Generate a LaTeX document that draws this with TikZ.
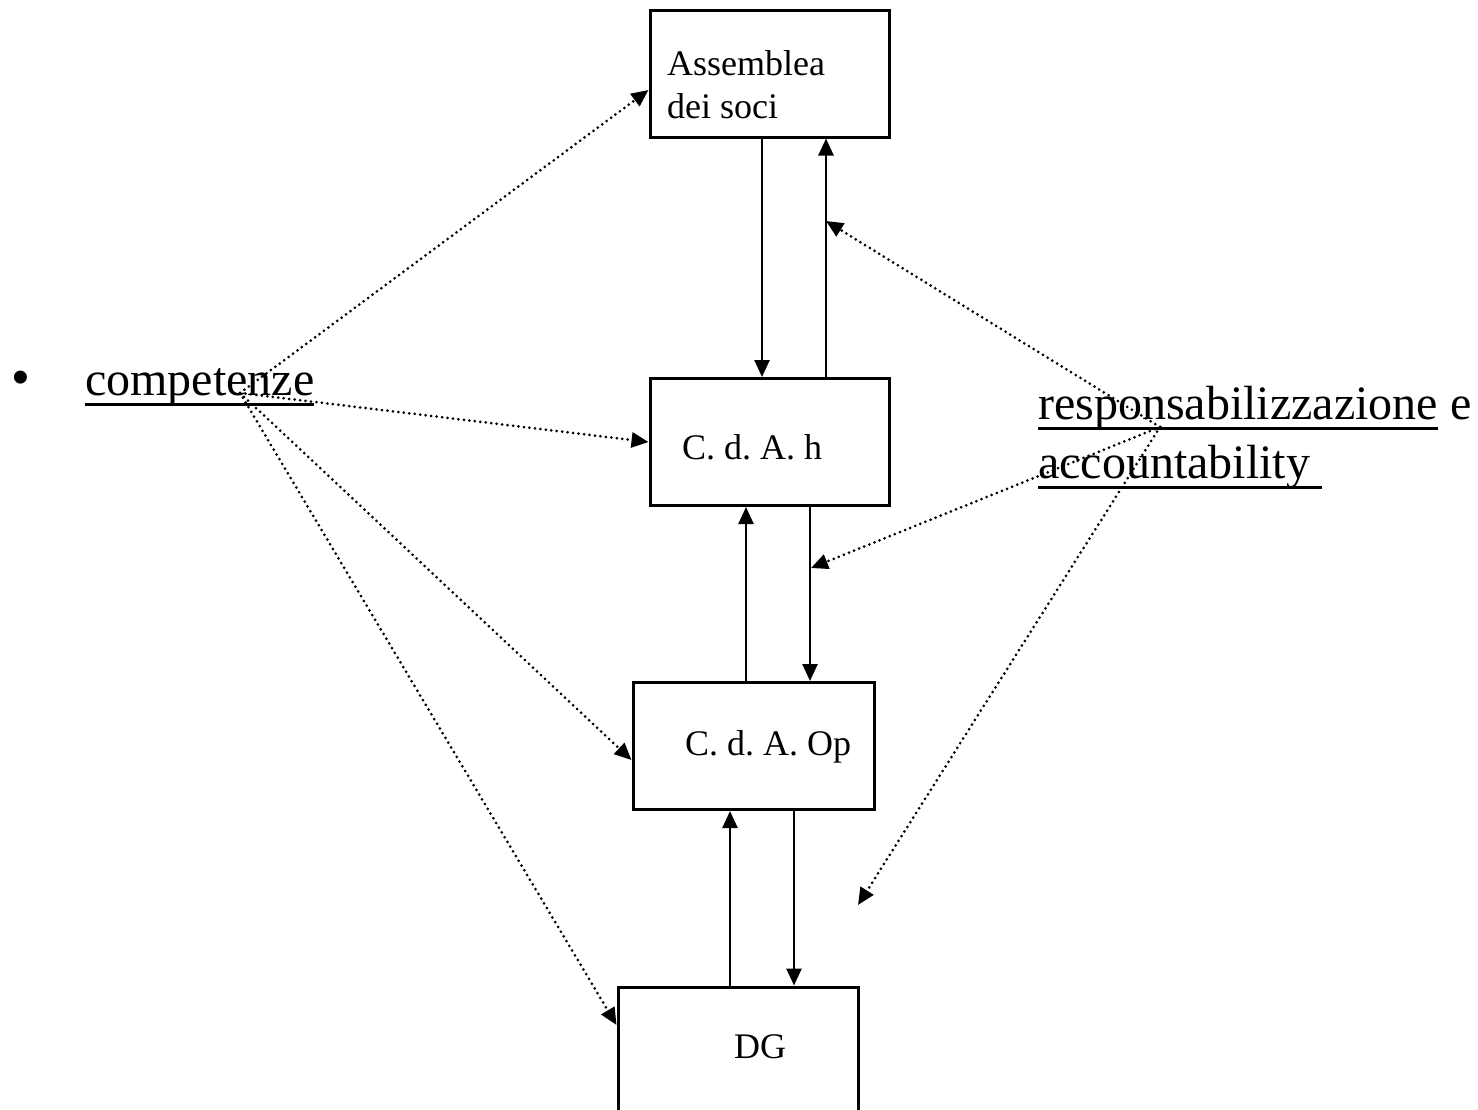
\documentclass[tikz,border=0pt]{standalone}
\usepackage{fontspec}
\setmainfont{Liberation Serif}
\newfontfamily\bulfont{Liberation Sans}
\usetikzlibrary{arrows.meta}
\frenchspacing
\newcommand\myul[1]{\setbox0\hbox{#1}\rlap{\rule[-11pt]{\wd0}{3pt}}\box0\relax}
\begin{document}
\begin{tikzpicture}[x=1pt,y=-1pt,
  box/.style={draw,line width=3pt,inner sep=0pt,minimum width=239pt,minimum height=127pt},
  boxtext/.style={anchor=base west,inner sep=0pt,font=\frenchspacing\fontsize{36}{43}\selectfont},
  bigtext/.style={anchor=base west,inner sep=0pt,font=\fontsize{48}{56}\selectfont},
  flow/.style={line width=2.6pt,-{Triangle[length=17pt,width=15pt]}},
  dotflow/.style={line width=3pt,line cap=round,dash pattern=on 0pt off 5.5pt,-{Triangle[length=17pt,width=15pt]}}]
\useasboundingbox (0,0) rectangle (1478,1109);
\clip (0,0) rectangle (1478,1109);
% boxes
\node[box] (A) at (769.5,73.5) {};
\node[box] (B) at (769.5,442) {};
\node[box,minimum width=241pt] (C) at (753.5,746) {};
\node[box,minimum width=240pt,minimum height=143pt] (D) at (738,1058.5) {};
% box texts
\node[boxtext] (a1) at (667,75) {Assemblea};
\node[boxtext] (a2) at (667,118) {dei soci};
\node[boxtext] (bt) at (682,459) {C. d. A. h};
\node[boxtext] (ct) at (685,755) {C. d. A. Op};
\node[boxtext] (dt) at (734,1058) {DG};
% side labels
\node[inner sep=0pt,font=\bulfont\fontsize{48}{48}\selectfont] (bul) at (21,382) {•};
\node[bigtext] (comp) at (85,395) {\myul{competenze}};
\node[bigtext] (resp1) at (1038,419) {\myul{responsabilizzazione} e};
\node[bigtext] (resp2) at (1038,478) {\myul{accountability\ }};
% solid arrows
\draw[flow] ([xshift=-7.5pt]A.south) -- ([xshift=-7.5pt]B.north);
\draw[flow] ([xshift=56.5pt]B.north) -- ([xshift=56.5pt]A.south);
\draw[flow] ([xshift=-7.5pt]C.north) -- ([xshift=-23.5pt]B.south);
\draw[flow] ([xshift=40.5pt]B.south) -- ([xshift=56.5pt]C.north);
\draw[flow] ([xshift=-8pt]D.north) -- ([xshift=-23.5pt]C.south);
\draw[flow] ([xshift=40.5pt]C.south) -- ([xshift=56pt]D.north);
% dotted arrows
\coordinate (co) at (240,393);
\coordinate (ro) at (1160,427);
\coordinate (t1) at (826,221);
\coordinate (t2) at (811,568);
\coordinate (t3) at (858,905);
\draw[dotflow] (co) -- ([yshift=-16.5pt]A.west);
\draw[dotflow] (co) -- (B.west);
\draw[dotflow] (co) -- ([yshift=-14pt]C.west);
\draw[dotflow] (co) -- ([yshift=33.5pt]D.west);
\draw[dotflow] (ro) -- (t1);
\draw[dotflow] (ro) -- (t2);
\draw[dotflow] (ro) -- (t3);
\end{tikzpicture}
\end{document}
